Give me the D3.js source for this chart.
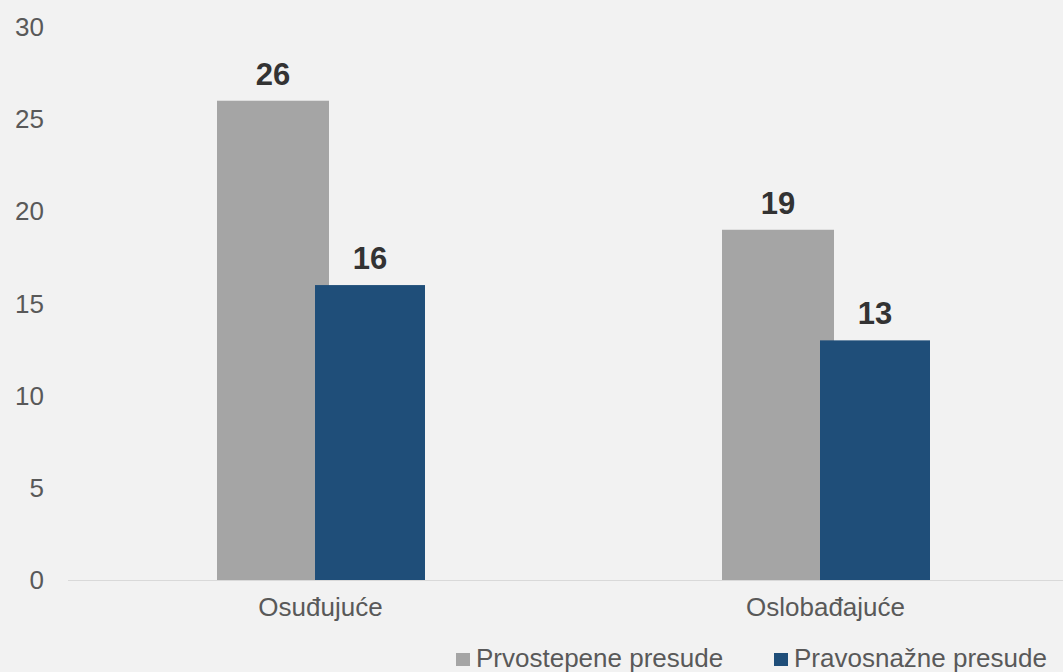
<!DOCTYPE html>
<html>
<head>
<meta charset="utf-8">
<style>
body { margin:0; background:#f2f2f2; }
svg { display:block; font-family:'Liberation Sans', Arial, sans-serif; }
</style>
</head>
<body>
<div id="chart"></div>
<script src="https://d3js.org/d3.v7.min.js"></script>
<script>

var categories = ["Osuđujuće", "Oslobađajuće"];
var seriesNames = ["Prvostepene presude", "Pravosnažne presude"];
var prvostepene = [26, 19];
var pravosnazne = [16, 13];
var yTicks = [0, 5, 10, 15, 20, 25, 30];
var colors = ["#a5a5a5", "#1f4e79"];

var width = 1063, height = 672;
var svg = d3.select("#chart").append("svg")
    .attr("width", width)
    .attr("height", height);

var x = d3.scaleBand().domain(categories).range([68, 1078]);
var y = d3.scaleLinear().domain([0, 30]).range([580, 27]);

var barW = 112, shift = 98;

// y axis labels
svg.selectAll(".ytick")
  .data(yTicks)
  .enter().append("text")
    .attr("class", "ytick")
    .attr("x", 44)
    .attr("y", function(d) { return y(d); })
    .attr("dy", "0.35em")
    .attr("text-anchor", "end")
    .attr("font-size", "26px")
    .attr("fill", "#595959")
    .text(function(d) { return d; });

var data = [];
categories.forEach(function(c, i) {
  data.push({cat: c, s: 0, v: prvostepene[i]});
  data.push({cat: c, s: 1, v: pravosnazne[i]});
});

function barX(d) {
  var c = Math.round(x(d.cat) + x.bandwidth() / 2);
  return c - 104 + d.s * shift;
}
function barWidth(d) { return d.s ? barW - 2 : barW; }

svg.selectAll(".bar")
  .data(data)
  .enter().append("rect")
    .attr("class", "bar")
    .attr("x", barX)
    .attr("y", function(d) { return y(d.v); })
    .attr("width", barWidth)
    .attr("height", function(d) { return y(0) - y(d.v); })
    .attr("fill", function(d) { return colors[d.s]; });

// baseline
svg.append("line")
    .attr("x1", 68).attr("x2", width)
    .attr("y1", y(0) + 0.5).attr("y2", y(0) + 0.5)
    .attr("stroke", "#d9d9d9")
    .attr("stroke-width", 1);

svg.selectAll(".val")
  .data(data)
  .enter().append("text")
    .attr("class", "val")
    .attr("x", function(d) { return barX(d) + barWidth(d) / 2; })
    .attr("y", function(d) { return y(d.v) - 16; })
    .attr("text-anchor", "middle")
    .attr("font-size", "31px")
    .attr("font-weight", "bold")
    .attr("fill", "#333333")
    .text(function(d) { return d.v; });

svg.selectAll(".cat")
  .data(categories)
  .enter().append("text")
    .attr("class", "cat")
    .attr("x", function(d) { return x(d) + x.bandwidth() / 2; })
    .attr("y", 616)
    .attr("text-anchor", "middle")
    .attr("font-size", "26px")
    .attr("fill", "#595959")
    .text(function(d) { return d; });

// legend
var legendX = [456, 774];
var leg = svg.selectAll(".leg")
  .data(seriesNames)
  .enter().append("g")
    .attr("class", "leg")
    .attr("transform", function(d, i) { return "translate(" + legendX[i] + ",0)"; });

leg.append("rect")
    .attr("x", 0).attr("y", 653)
    .attr("width", 14).attr("height", 13)
    .attr("fill", function(d, i) { return colors[i]; });

leg.append("text")
    .attr("x", 20).attr("y", 667)
    .attr("font-size", "26px")
    .attr("fill", "#595959")
    .text(function(d) { return d; });

</script>
</body>
</html>
